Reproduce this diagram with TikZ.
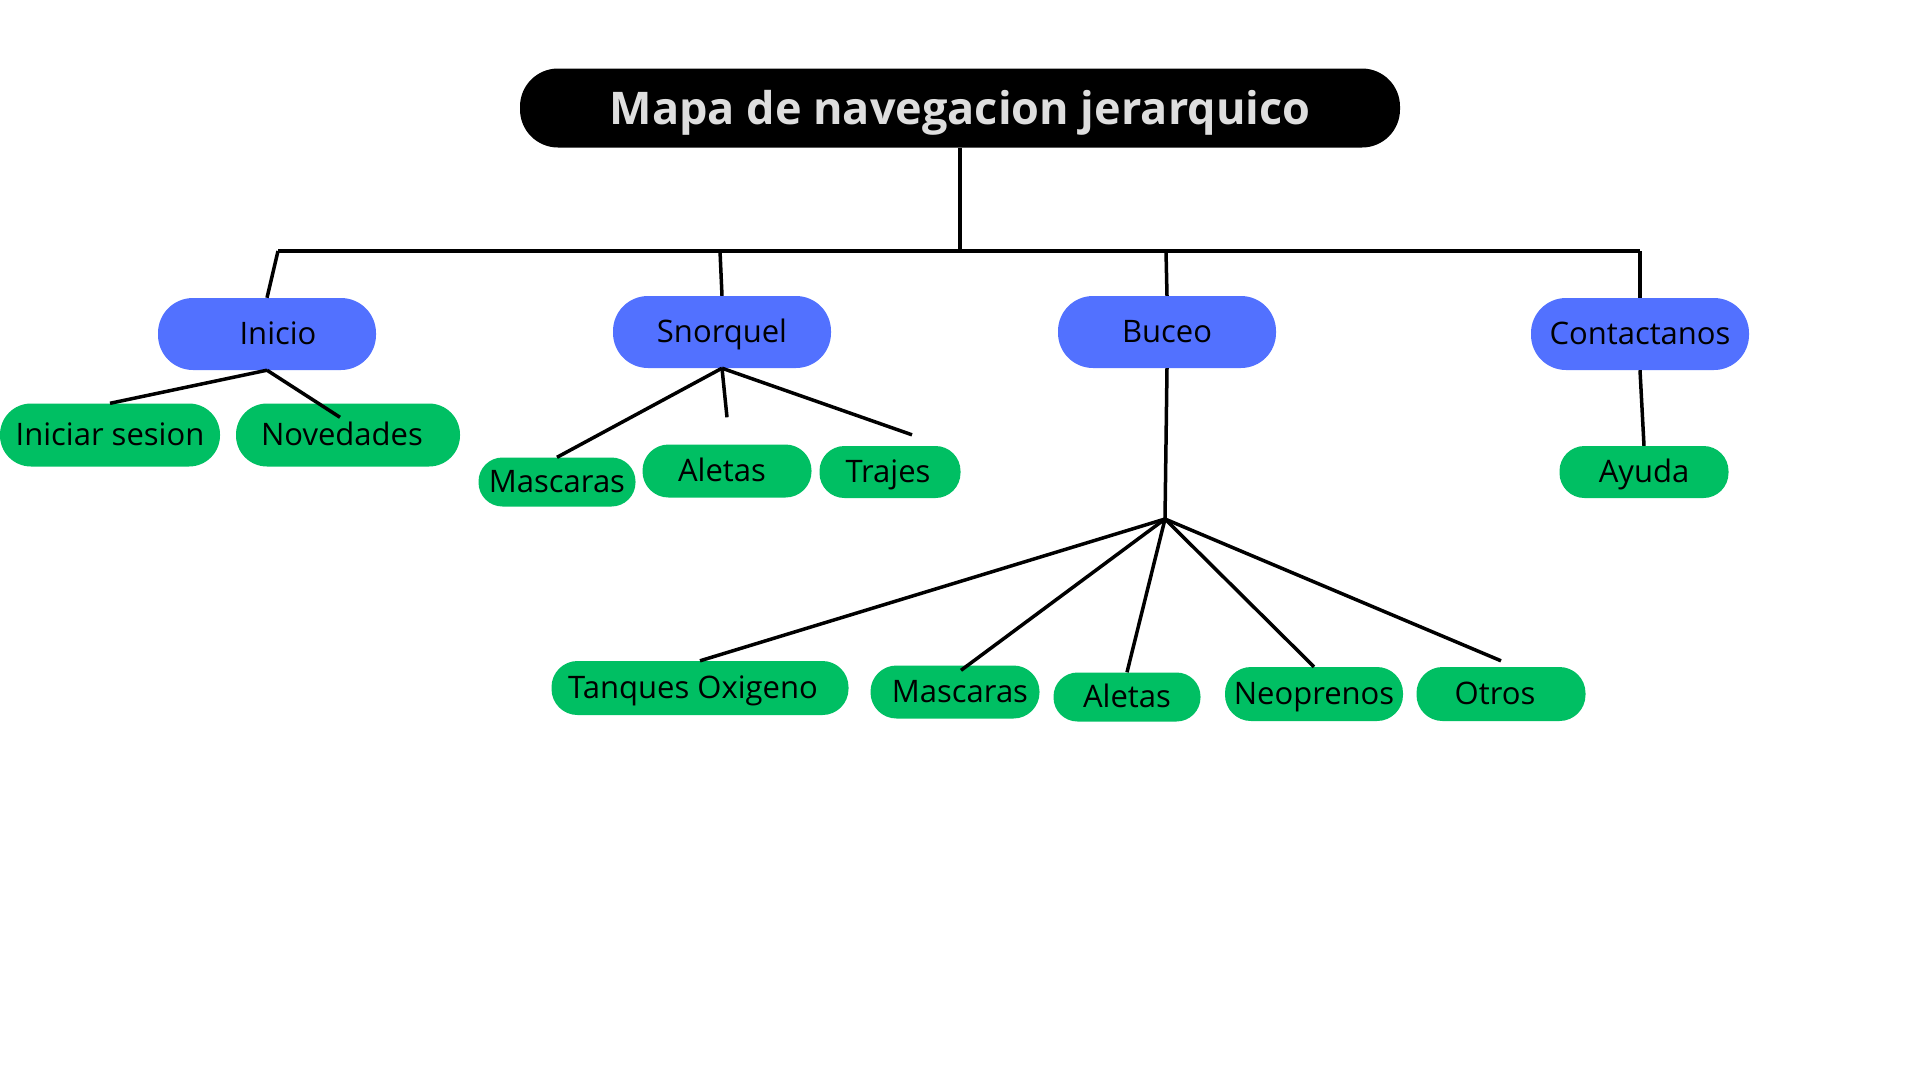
\documentclass[tikz,border=0pt]{standalone}
\usepackage{fontspec}
\setmainfont{Open Sans}
\usetikzlibrary{positioning, calc}
\definecolor{navblue}{HTML}{5271FF}
\definecolor{navgreen}{HTML}{00BF63}
\definecolor{titlegray}{HTML}{DEDEDE}

\tikzset{
  menu/.style={fill=navblue, rounded corners=35pt, minimum width=218pt, minimum height=72pt, inner sep=0pt, text height=21pt, text depth=0pt, font=\fontsize{31}{37}\selectfont},
  item/.style={fill=navgreen, rounded corners=25pt, minimum height=52pt, inner sep=0pt, text height=20pt, text depth=0pt, font=\fontsize{31}{37}\selectfont},
  link/.style={line width=3.5pt, black},
}

\begin{document}
\begin{tikzpicture}[x=1pt, y=-1pt]
  \useasboundingbox (0,0) rectangle (1920,1080);

  % Title
  \node[fill=black, rounded corners=38pt, minimum width=880pt, minimum height=79pt, inner sep=0pt, text height=32pt, text depth=0pt, text=titlegray, font=\fontsize{45}{54}\selectfont\bfseries] (title) at (960,108) {Mapa de navegacion jerarquico};

  % Main menu
  \node[menu] (inicio) at (267,334) {\hspace*{22pt}Inicio};
  \node[menu] (snorquel) at (722,332) {Snorquel};
  \node[menu] (buceo) at (1167,332) {Buceo};
  \node[menu] (contact) at (1640,334) {Contactanos};

  % Inicio
  \node[item, minimum width=220pt, minimum height=63pt, rounded corners=31pt] (sesion) at (110,435) {Iniciar sesion};
  \node[item, minimum width=224pt, minimum height=63pt, rounded corners=31pt] (novedades) at (348,435) {Novedades\hspace*{12pt}};

  % Snorquel
  \node[item, minimum width=157pt, minimum height=49pt, rounded corners=24pt] (masc1) at (557,482) {Mascaras};
  \node[item, minimum width=169pt, minimum height=53pt, rounded corners=26pt] (aletas1) at (727,471) {\hspace*{-10pt}Aletas};
  \node[item, minimum width=141pt] (trajes) at (890,472) {Trajes\hspace*{4pt}};

  % Buceo
  \node[item, minimum width=297pt, minimum height=54pt, rounded corners=26pt] (tanques) at (700,688) {Tanques Oxigeno\hspace*{14pt}};
  \node[item, minimum width=169pt, minimum height=53pt, rounded corners=26pt] (masc2) at (955,692) {\hspace*{10pt}Mascaras};
  \node[item, minimum width=147pt, minimum height=49pt, rounded corners=24pt] (aletas2) at (1127,697) {Aletas};
  \node[item, minimum width=178pt, minimum height=54pt, rounded corners=26pt] (neopr) at (1314,694) {Neoprenos};
  \node[item, minimum width=169pt, minimum height=54pt, rounded corners=26pt] (otros) at (1501,694) {Otros\hspace*{12pt}};

  % Contactanos
  \node[item, minimum width=169pt] (ayuda) at (1644,472) {Ayuda};

  % Connectors
  \coordinate (hub) at (960,251);
  \coordinate (barL) at (278,251);
  \coordinate (barR) at (1640,251);
  \coordinate (snTop) at (720,251);
  \coordinate (buTop) at (1166,251);
  \coordinate (bhub) at (1165,519);

  \draw[link] (title.south) -- (hub);
  \draw[link] (barL) -- (barR);
  \draw[link] (barL) -- (inicio.north);
  \draw[link] (snTop) -- (snorquel.north);
  \draw[link] (buTop) -- (buceo.north);
  \draw[link] (barR) -- (contact.north);

  \draw[link] (inicio.south) -- (sesion.north);
  \draw[link] (inicio.south) -- ($(novedades.north)+(-8,14)$);

  \draw[link] (snorquel.south) -- (masc1.north);
  \draw[link] (snorquel.south) -- ($(aletas1.north)+(0,-27)$);
  \draw[link] (snorquel.south) -- ($(trajes.north)+(22,-11)$);

  \draw[link] (buceo.south) -- (bhub);
  \draw[link] (bhub) -- (tanques.north);
  \draw[link] (bhub) -- ($(masc2.north)+(6,5)$);
  \draw[link] (bhub) -- (aletas2.north);
  \draw[link] (bhub) -- (neopr.north);
  \draw[link] (bhub) -- ($(otros.north)+(0,-6)$);

  \draw[link] (contact.south) -- (ayuda.north);
\end{tikzpicture}
\end{document}
